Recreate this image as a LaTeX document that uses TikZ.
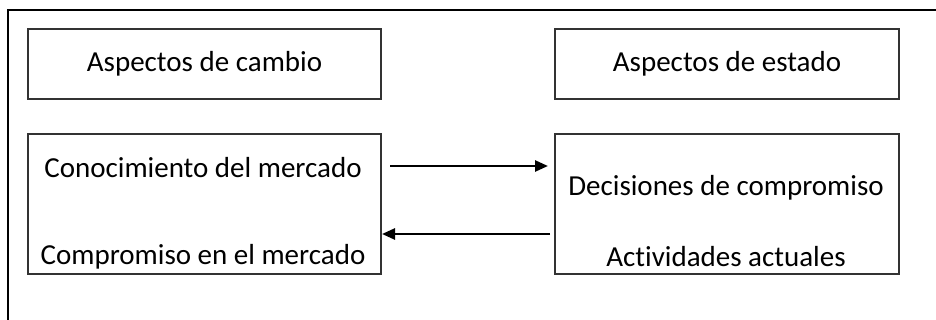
\documentclass[tikz,border=0pt]{standalone}
\usepackage{fontspec}
\setmainfont[Ligatures=NoCommon]{Carlito}
\usetikzlibrary{arrows.meta}
\begin{document}
\begin{tikzpicture}[x=1pt,y=-1pt,
  box/.style={draw=black!80,line width=2pt,inner sep=0pt,anchor=north west},
  lbl/.style={font=\fontsize{29}{31}\selectfont,text=black,inner sep=0pt},
  arr/.style={line width=2.6pt,-{Triangle[length=13pt,width=11pt]}}]
\clip (0,0) rectangle (936,320);
\fill[white] (0,0) rectangle (936,320);
\draw[line width=2pt] (8,340) -- (8,10) -- (960,10);
\node[box,minimum width=353pt,minimum height=70pt] (tl) at (27,28) {};
\node[box,minimum width=344pt,minimum height=70pt] (tr) at (554,28) {};
\node[box,minimum width=353pt,minimum height=140pt] (bl) at (27,133) {};
\node[box,minimum width=344pt,minimum height=140pt] (br) at (554,133) {};
\node[lbl] (t1) at (tl.center) {Aspectos de cambio};
\node[lbl] (t2) at (tr.center) {Aspectos de estado};
\node[lbl] (t3) at (203,168) {Conocimiento del mercado};
\node[lbl] (t4) at (203,257) {Compromiso en el mercado};
\node[lbl] (t5) at (726,188) {Decisiones de compromiso};
\node[lbl] (t6) at (726,257) {Actividades actuales};
\draw[arr] ([xshift=8pt,yshift=38pt]bl.east) -- ([xshift=-6pt,yshift=38pt]br.west);
\draw[arr] ([xshift=-4pt,yshift=-30pt]br.west) -- ([yshift=-30pt]bl.east);
\end{tikzpicture}
\end{document}
